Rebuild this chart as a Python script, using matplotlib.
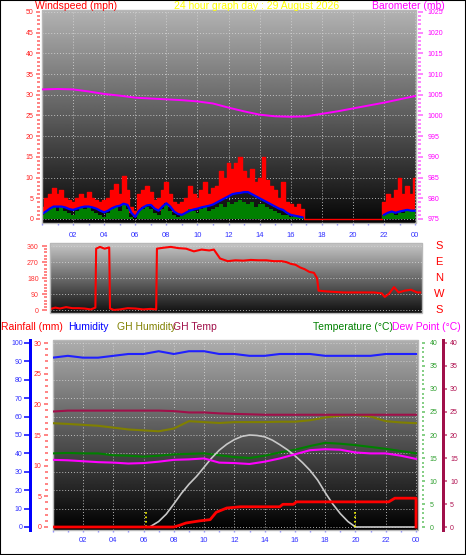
import numpy as np
import matplotlib
matplotlib.use("Agg")
import matplotlib.pyplot as plt
from matplotlib.ticker import MultipleLocator
from matplotlib.patches import Rectangle
import matplotlib.transforms as mtransforms

plt.rcParams['font.family'] = ['Liberation Sans', 'DejaVu Sans']

# ---- data ----
# wind, every 15 minutes from 00:00 to 24:00 (mph)
wind_gust = [3, 5, 6, 7.5, 6, 7, 5, 4.5, 4, 5, 6, 5, 6.5, 5, 4.5, 4,
             4.5, 5, 7, 8.5, 6, 10.4, 7, 3, 2, 6, 7, 8, 6.5, 4.5, 5, 7,
             9, 6, 4, 3.5, 4, 5, 8, 6, 5, 7, 9, 6, 7.5, 8, 11.5, 10,
             13.5, 12, 13.5, 15, 11.5, 10, 12, 9, 10, 15, 9.5, 8, 7, 5, 9, 4,
             3.5, 3, 3.5, 2.5, 0, 0, 0, 0, 0, 0, 0, 0, 0, 0, 0, 0,
             0, 0, 0, 0, 0, 0, 0, 0, 4, 6, 5, 7, 10, 6, 8, 6, 10]
wind_avg = [1.2, 1.8, 2.5, 3, 3, 3, 2.8, 2.4, 2.2, 2.5, 2.8, 3, 3, 2.8, 2.5, 2,
            1.6, 2, 2.6, 3, 3.2, 3.7, 3.4, 1.5, 0.5, 2, 2.8, 3.3, 3.4, 2.5, 2, 3,
            3.8, 3, 1.8, 1.2, 1, 1.5, 2, 2.3, 2.5, 2.8, 3, 3.2, 3.5, 4, 4.5, 5,
            5.5, 6, 6.2, 6.3, 6.5, 6.5, 6, 5.5, 5, 4.5, 4, 3.5, 3, 2.5, 2.2, 1.5,
            1, 0.8, 0.6, 0.4, 0, 0, 0, 0, 0, 0, 0, 0, 0, 0, 0, 0,
            0, 0, 0, 0, 0, 0, 0, 0, 1, 1.5, 1.8, 1.5, 1.8, 2, 2.2, 2, 2]
wind_speed = [1, 2, 2.5, 3, 2, 3, 2, 1.5, 1, 2, 3, 2.5, 3, 2, 1.5, 1,
              0.5, 1.5, 2.5, 3, 2, 3.5, 2.5, 0.5, 0, 2, 2.5, 3, 2.5, 1.5, 1, 2.5,
              3.5, 2, 1, 0.5, 1, 1.5, 2.5, 2, 1.5, 2.5, 3, 2, 2.5, 3, 3.5, 3,
              4, 3.5, 4, 4.5, 4, 3.5, 4, 3, 3.5, 3.5, 3, 2.5, 2, 1.5, 1, 1,
              0.5, 1, 0.5, 0.5, 0, 0, 0, 0, 0, 0, 0, 0, 0, 0, 0, 0,
              0, 0, 0, 0, 0, 0, 0, 0, 1, 1.5, 2, 1, 2, 1.5, 2.5, 2, 2]
wind_hours = np.linspace(0, 24, len(wind_gust))

# barometer, hourly (mb)
baro_mb = [1006.3, 1006.4, 1006.3, 1005.8, 1005.2, 1004.8, 1004.3, 1004.1, 1003.9,
           1003.7, 1003.4, 1002.9, 1001.9, 1001.0, 1000.2, 999.8, 999.7, 999.8,
           1000.4, 1001.0, 1001.7, 1002.4, 1003.1, 1003.9, 1004.7]
hourly = np.arange(25)

# wind direction (degrees)
dir_hours = [0, 0.3, 0.6, 1.0, 1.4, 1.8, 2.2, 2.6, 2.9, 2.95, 3.2, 3.5, 3.8, 3.85,
             4.1, 4.5, 5.0, 5.5, 6.0, 6.5, 6.85, 6.9, 7.3, 7.8, 8.3, 8.8, 9.3, 9.8,
             10.3, 10.6, 11.0, 11.5, 12.0, 12.5, 13.0, 13.5, 14.0, 14.5, 15.0, 15.3,
             15.6, 15.9, 16.2, 16.5, 16.8, 17.1, 17.3, 17.4, 18.0, 19.0, 20.0, 21.0,
             21.5, 21.7, 22.0, 22.3, 22.6, 23.0, 23.4, 23.8, 24]
dir_deg = [8, 15, 10, 18, 12, 12, 10, 5, 15, 345, 355, 345, 352, 10,
           2, 5, 12, 10, 5, 8, 5, 345, 350, 355, 348, 345, 330, 340,
           335, 340, 290, 275, 280, 278, 282, 280, 280, 275, 275, 270,
           260, 255, 240, 230, 215, 210, 180, 110, 105, 100, 100, 100,
           95, 75, 95, 130, 100, 110, 115, 100, 100]
compass = ['S', 'W', 'N', 'E', 'S']

# lower panel, hourly
temp_c = [16.0, 16.1, 16.0, 16.0, 15.6, 15.5, 15.3, 15.5, 15.8, 15.9, 16.0, 15.6, 15.2,
          15.0, 15.5, 16.2, 16.8, 17.6, 18.3, 18.1, 17.8, 17.4, 17.0, 16.5, 16.0]
dew_c = [14.6, 14.5, 14.3, 14.1, 14.0, 13.8, 13.9, 14.2, 14.6, 14.7, 14.9, 14.0, 13.9,
         13.7, 14.2, 14.9, 15.8, 16.7, 16.9, 16.8, 16.2, 16.0, 16.0, 15.5, 14.8]
humidity = [92, 93, 92, 92, 93, 94, 94, 95.5, 94, 95.5, 95.5, 94, 94,
            93, 93, 94, 94, 94, 93, 93, 93, 93, 94, 94, 94]
gh_humidity = [56.4, 56, 55.5, 55, 54, 53, 52.5, 52, 53.5, 57.5, 57, 56.5, 57,
               57, 57, 57.2, 57.2, 58, 59.5, 60.5, 61, 60, 57.5, 56.8, 56.4]
gh_temp = [25.1, 25.3, 25.3, 25.3, 25.3, 25.3, 25.3, 25.3, 25.2, 24.9, 24.9, 24.7, 24.6,
           24.5, 24.4, 24.4, 24.4, 24.4, 24.4, 24.4, 24.4, 24.4, 24.4, 24.4, 24.4]

rain_hours = [0, 8.0, 8.4, 8.8, 9.7, 10.4, 10.8, 11.5, 12.4, 15.0, 15.2, 15.9, 16.1,
              22.2, 22.4, 22.6, 24.0, 24.0]
rain_mm = [0, 0, 0.3, 0.65, 1.0, 1.2, 2.4, 3.1, 3.3, 3.3, 3.7, 3.7, 4.1,
           4.1, 4.4, 4.7, 4.7, 0]

# solar curve (drawn on the temperature scale)
solar_hours = [0, 6.4, 7, 7.5, 8, 8.5, 9, 9.5, 10, 10.5, 11, 11.5, 12, 12.5, 13,
               13.5, 14, 14.5, 15, 15.5, 16, 16.5, 17, 17.5, 18, 18.5, 19, 19.5, 20, 24]
solar = [0, 0, 1.2, 2.8, 5, 7.3, 9.3, 11, 13, 15, 16.7, 18, 19, 19.7, 20,
         19.9, 19.6, 18.9, 17.9, 16.8, 15.5, 14, 12.3, 10.2, 7.5, 5, 2.9, 1.2, 0, 0]
sunrise, sunset = 6.15, 20.0

hour_ticks = list(range(2, 25, 2))
hour_labels = ['%02d' % (h % 24) for h in hour_ticks]

# ---- figure ----
W, H = 466, 555
PT = 0.72  # points per pixel at dpi 100
fig = plt.figure(figsize=(W / 100, H / 100), dpi=100)
fig.patch.set_facecolor('white')


def rect(x0, y0, x1, y1):
    return [x0 / W, 1 - y1 / H, (x1 - x0) / W, (y1 - y0) / H]


def hide_spines(ax):
    for s in ax.spines.values():
        s.set_visible(False)


def panel(ax, top, bottom, xlim, ylim):
    ax.set_xlim(*xlim)
    ax.set_ylim(*ylim)
    g = np.linspace(top, bottom, 256).reshape(-1, 1)
    ax.imshow(g, cmap='gray', vmin=0, vmax=1, aspect='auto', origin='upper',
              extent=[xlim[0], xlim[1], ylim[0], ylim[1]], zorder=0)
    ax.set_xlim(*xlim)
    ax.set_ylim(*ylim)
    hide_spines(ax)
    ax.add_patch(Rectangle((0, 0), 1, 1, transform=ax.transAxes, fill=False,
                           ec='#b8b8b8', lw=1, zorder=6, clip_on=False))


def hour_axis(ax, pad):
    ax.set_xticks(hour_ticks)
    ax.set_xticklabels(hour_labels)
    ax.xaxis.set_minor_locator(MultipleLocator(1))
    ax.tick_params(axis='x', which='both', colors='#9090ff', length=2.5 * PT,
                   width=1, labelcolor='#3030ff', labelsize=5.5, pad=pad)


grid_kw = dict(color='#d8d8d8', linestyle=(0, (1, 2)), linewidth=0.7, alpha=0.8)

# top panel: wind + barometer
ax_w = fig.add_axes(rect(42, 10, 416, 223))
panel(ax_w, 0.70, 0.02, (0, 24.06), (-0.97, 50.48))
hour_axis(ax_w, 5)
ax_w.yaxis.set_major_locator(MultipleLocator(5))
ax_w.yaxis.set_minor_locator(MultipleLocator(1))
ax_w.spines['left'].set_position(('outward', 2 * PT))
ax_w.tick_params(axis='y', which='major', colors='#ff6060', length=4 * PT, width=1.5 * PT,
                 labelcolor='#ff2020', labelsize=5, pad=2)
ax_w.tick_params(axis='y', which='minor', colors='#ff6060', length=3 * PT, width=1.5 * PT)
ax_w.grid(True, which='major', **grid_kw)
ax_w.fill_between(wind_hours, wind_avg, wind_gust, step='mid', color='#ff0000', lw=0, zorder=2)
ax_w.step(wind_hours, wind_gust, where='mid', color='#ff0000', lw=1, zorder=2)
ax_w.fill_between(wind_hours, 0, wind_speed, step='mid', color='#008000', lw=0, zorder=3)
# average line stops while it is calm
avg_line = np.where(np.array(wind_gust) > 0, wind_avg, np.nan)
ax_w.plot(wind_hours, avg_line, color='#0000ff', lw=1.6, zorder=4)

ax_b = ax_w.twinx()
hide_spines(ax_b)
ax_b.set_ylim(975 - 0.97, 1025.48)
ax_b.spines['right'].set_position(('outward', 2 * PT))
ax_b.yaxis.set_major_locator(MultipleLocator(5))
ax_b.yaxis.set_minor_locator(MultipleLocator(1))
ax_b.tick_params(axis='y', which='major', colors='#ff60ff', length=5 * PT, width=1.5 * PT,
                 labelcolor='#ff00ff', labelsize=5, pad=3)
ax_b.tick_params(axis='y', which='minor', colors='#ff60ff', length=3 * PT, width=1.5 * PT)
ax_b.plot(hourly, baro_mb, color='#ff00ff', lw=1.4)

fig.text(35 / W, 1 - 6 / H, 'Windspeed (mph)', color='#ff0000', fontsize=7.5, va='center')
fig.text(257 / W, 1 - 6 / H, '24 hour graph day : 29 August 2026', color='#ffff00',
         fontsize=7.5, va='center', ha='center')
fig.text(372 / W, 1 - 6 / H, 'Barometer (mb)', color='#ff00ff', fontsize=7.5, va='center')

# middle panel: wind direction
ax_d = fig.add_axes(rect(49.5, 243, 421.7, 313))
panel(ax_d, 0.78, 0.06, (-0.08, 24.1), (-15.1, 376.8))
ax_d.set_xticks([])
ax_d.set_yticks([0, 90, 180, 270, 360])
ax_d.yaxis.set_minor_locator(MultipleLocator(18))
ax_d.spines['left'].set_position(('outward', 3 * PT))
ax_d.tick_params(axis='y', which='major', colors='#ff6060', length=5 * PT, width=1.5 * PT,
                 labelcolor='#ff3030', labelsize=5, pad=2)
ax_d.tick_params(axis='y', which='minor', colors='#ff6060', length=3 * PT, width=1.5 * PT)
ax_d.grid(True, axis='y', **grid_kw)
ax_d.plot(dir_hours, dir_deg, color='#ff0000', lw=1.5, zorder=3)
tr = mtransforms.blended_transform_factory(ax_d.transAxes, ax_d.transData)
for deg, lab in zip([0, 90, 180, 270, 360], compass):
    ax_d.text(1.047, deg, lab, transform=tr, color='#ff0000', fontsize=8,
              ha='center', va='center', clip_on=False)

# bottom panel: rain, humidity, temperatures
ax_r = fig.add_axes(rect(52.7, 340, 418.3, 530))
panel(ax_r, 0.68, 0.0, (0, 24.15), (-0.49, 30.49))
hour_axis(ax_r, 3)
ax_r.grid(True, axis='x', **grid_kw)
ax_r.yaxis.set_major_locator(MultipleLocator(5))
ax_r.yaxis.set_minor_locator(MultipleLocator(1))
ax_r.spines['left'].set_position(('outward', 4.7 * PT))
ax_r.tick_params(axis='y', which='major', colors='#ff6060', length=4 * PT, width=1.5 * PT,
                 labelcolor='#ff2020', labelsize=5, pad=2)
ax_r.tick_params(axis='y', which='minor', colors='#ff6060', length=3 * PT, width=1.5 * PT)

ax_h = ax_r.twinx()
hide_spines(ax_h)
ax_h.set_ylim(-1.63, 101.6)
ax_h.yaxis.tick_left()
ax_h.spines['left'].set_visible(True)
ax_h.spines['left'].set_position(('outward', 22.7 * PT))
ax_h.spines['left'].set_color('#0000ff')
ax_h.spines['left'].set_linewidth(3 * PT)
ax_h.yaxis.set_major_locator(MultipleLocator(10))
ax_h.tick_params(axis='y', colors='#0000ff', length=6 * PT, width=1.5 * PT,
                 labelcolor='#3030ff', labelsize=5, pad=1)
ax_h.grid(True, axis='y', **grid_kw)
ax_h.plot(hourly, humidity, color='#2020ff', lw=1.5)
ax_h.plot(hourly, gh_humidity, color='#808000', lw=1.5)

ax_t = ax_r.twinx()
hide_spines(ax_t)
ax_t.set_ylim(-0.65, 40.65)
ax_t.spines['right'].set_position(('outward', 4 * PT))
ax_t.yaxis.set_major_locator(MultipleLocator(5))
ax_t.yaxis.set_minor_locator(MultipleLocator(1))
ax_t.tick_params(axis='y', which='major', colors='#60c060', length=3 * PT, width=1.5 * PT,
                 labelcolor='#30a030', labelsize=5, pad=3)
ax_t.tick_params(axis='y', which='minor', colors='#60c060', length=2 * PT, width=1.5 * PT)
ax_t.plot(hourly, temp_c, color='#008000', lw=1.5)
ax_t.plot(solar_hours, solar, color='#c8c8c8', lw=1.2)
ax_t.vlines([sunrise, sunset], 0, 3.5, colors='#ffff00', linestyles=':', lw=1.2)

ax_dp = ax_r.twinx()
hide_spines(ax_dp)
ax_dp.set_ylim(-0.65, 40.65)
ax_dp.spines['right'].set_visible(True)
ax_dp.spines['right'].set_position(('outward', 25 * PT))
ax_dp.spines['right'].set_color('#a0104a')
ax_dp.spines['right'].set_linewidth(3 * PT)
ax_dp.yaxis.set_major_locator(MultipleLocator(5))
ax_dp.yaxis.set_minor_locator(MultipleLocator(1))
ax_dp.tick_params(axis='y', which='major', colors='#c04070', length=4 * PT, width=1.5 * PT,
                  labelcolor='#b01050', labelsize=5, pad=2)
ax_dp.tick_params(axis='y', which='minor', colors='#c04070', length=2 * PT, width=1.5 * PT)
ax_dp.plot(hourly, gh_temp, color='#a0104a', lw=1.5)
ax_dp.plot(hourly, dew_c, color='#ff00ff', lw=1.5)
ax_dp.plot(rain_hours, np.array(rain_mm) * 40 / 30, color='#ff0000', lw=2)

ty = 1 - 327 / H
fig.text(1 / W, ty, 'Rainfall (mm)', color='#ff0000', fontsize=7.5, va='center')
fig.text(68 / W, ty, 'Humidity', color='#0000ff', fontsize=7.5, va='center')
fig.text(117 / W, ty, 'GH Humidity', color='#808000', fontsize=7.5, va='center')
fig.text(173 / W, ty, 'GH Temp', color='#a0104a', fontsize=7.5, va='center')
fig.text(313 / W, ty, 'Temperature (\u00b0C)', color='#008000', fontsize=7.5, va='center')
fig.text(392 / W, ty, 'Dew Point (\u00b0C)', color='#ff00ff', fontsize=7.5, va='center')

fig.patches.append(Rectangle((0, 0), 1, 1, transform=fig.transFigure, fill=False,
                             ec='black', lw=1.5))

fig.savefig('out.png', dpi=100)
